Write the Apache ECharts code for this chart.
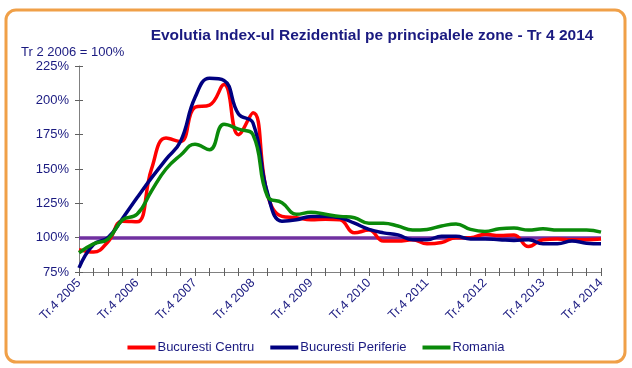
<!DOCTYPE html>
<html><head><meta charset="utf-8">
<script src="https://cdn.jsdelivr.net/npm/echarts@6/dist/echarts.min.js"></script>
<style>html,body{margin:0;padding:0;background:#fff}#c{width:632px;height:368px}</style>
</head><body><div id="c"></div>
<script>
const categories = ["Tr.4 2005","Tr.1 2006","Tr.2 2006","Tr.3 2006","Tr.4 2006","Tr.1 2007","Tr.2 2007","Tr.3 2007","Tr.4 2007","Tr.1 2008","Tr.2 2008","Tr.3 2008","Tr.4 2008","Tr.1 2009","Tr.2 2009","Tr.3 2009","Tr.4 2009","Tr.1 2010","Tr.2 2010","Tr.3 2010","Tr.4 2010","Tr.1 2011","Tr.2 2011","Tr.3 2011","Tr.4 2011","Tr.1 2012","Tr.2 2012","Tr.3 2012","Tr.4 2012","Tr.1 2013","Tr.2 2013","Tr.3 2013","Tr.4 2013","Tr.1 2014","Tr.2 2014","Tr.3 2014","Tr.4 2014"];
const bucurestiCentru = [91.3,89.5,97,112,111.5,150,172.5,170,195,196.5,211.5,175,191,131.5,115.5,114.5,113,113.5,113,103.5,105.5,97.5,97.5,98.5,95.5,96.5,100,100,102.5,101.5,102,93.5,98.5,99,98.5,98.5,99];
const bucurestiPeriferie = [78,95,100,114,129,143.5,157,170,202,216,214.5,190,183.5,132.5,112,113,115.5,115.5,114.5,110.5,106,103.5,102,98.5,98.5,101,101,99,99,98.5,98,98.5,95.5,95.5,97.5,96,95.5];
const romania = [89,95.5,99,113,117,134,150,160,168,164,182.5,179,175,130,125.5,117,118.5,117,115.5,114.5,110.5,110.5,108.5,105.5,106,108.5,110,106,104.5,106.5,107,105.5,106.5,105.5,105.5,105.5,104];
const baseValue = 100;
const yTicks = [75,100,125,150,175,200,225];

const navy = '#1a1a80';
const font = 'Liberation Sans, Arial';
const chart = echarts.init(document.getElementById('c'));
const mkLine = (name, data, color) => ({
  name, type: 'line', data, smooth: 0.45, symbol: 'none',
  lineStyle: {color, width: 3.5}, itemStyle: {color}, z: 3
});
const red = mkLine('Bucuresti Centru', bucurestiCentru, '#ff0000');
red.markLine = {silent: true, symbol: 'none', label: {show: false},
  lineStyle: {color: '#7030a0', width: 3.5, type: 'solid'},
  data: [{yAxis: baseValue}], z: 1};
chart.setOption({
  animation: false,
  backgroundColor: '#fff',
  graphic: [{type: 'rect', shape: {x: 6, y: 10, width: 619, height: 352, r: 10},
    style: {fill: '#fff', stroke: '#f0a048', lineWidth: 3}, z: -10}],
  title: [
    {text: 'Evolutia Index-ul Rezidential pe principalele zone - Tr 4 2014', left: 367, top: 23, textAlign: 'center',
     textStyle: {fontFamily: font, fontSize: 15.5, fontWeight: 'bold', color: navy}},
    {text: 'Tr 2 2006 = 100%', left: 16, top: 41,
     textStyle: {fontFamily: font, fontSize: 13, fontWeight: 'normal', color: navy}}
  ],
  legend: {top: 336, left: 'center', icon: 'rect', itemWidth: 28, itemHeight: 4, itemGap: 16,
    textStyle: {fontFamily: font, fontSize: 13, color: navy, padding: [0,0,0,-3]},
    data: ['Bucuresti Centru','Bucuresti Periferie','Romania']},
  grid: {left: 79, right: 31, top: 66, bottom: 96},
  xAxis: [
    {type: 'category', data: categories, boundaryGap: false,
     axisLine: {lineStyle: {color: '#808080', width: 1}},
     axisTick: {show: true, interval: 0, length: 4, lineStyle: {color: '#606060'}},
     axisLabel: {interval: 3, rotate: 45, fontFamily: font, fontSize: 12.5, color: navy, margin: 9},
     splitLine: {show: false}},
    {type: 'category', data: categories, boundaryGap: false, position: 'bottom',
     axisLine: {show: false},
     axisTick: {show: true, inside: true, interval: 0, length: 4, lineStyle: {color: '#606060'}},
     axisLabel: {show: false}, splitLine: {show: false}}
  ],
  yAxis: [
    {type: 'value', min: yTicks[0], max: yTicks[yTicks.length-1], interval: 25,
     axisLine: {show: true, lineStyle: {color: '#808080', width: 1}},
     axisTick: {show: true, length: 4, lineStyle: {color: '#606060'}},
     axisLabel: {formatter: '{value}%', fontFamily: font, fontSize: 13, color: navy, margin: 10},
     splitLine: {show: false}},
    {type: 'value', min: yTicks[0], max: yTicks[yTicks.length-1], interval: 25, position: 'left',
     axisLine: {show: false},
     axisTick: {show: true, inside: true, length: 4, lineStyle: {color: '#606060'}},
     axisLabel: {show: false}, splitLine: {show: false}}
  ],
  series: [
    red,
    mkLine('Bucuresti Periferie', bucurestiPeriferie, '#000080'),
    mkLine('Romania', romania, '#0a8a0a')
  ]
});
</script></body></html>
